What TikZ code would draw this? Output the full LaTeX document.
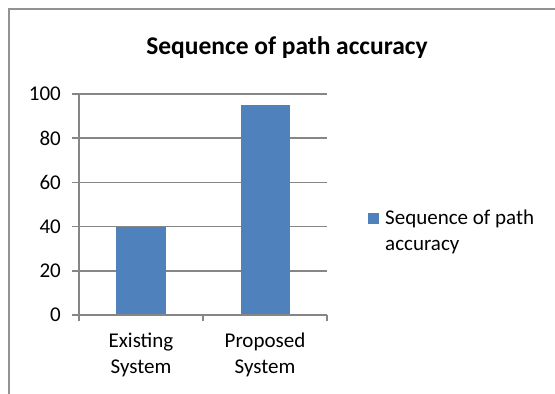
\documentclass[tikz,border=0pt]{standalone}
\usepackage{fontspec}
\setmainfont{Carlito}
\definecolor{barblue}{HTML}{4F81BD}
\definecolor{axisgray}{HTML}{868686}
\tikzstyle{gridline}=[draw=axisgray, line width=1.6]
\tikzstyle{axisline}=[draw=axisgray, line width=1.6]
\tikzstyle{framebox}=[draw=axisgray!90, line width=1.6]
\tikzstyle{barbox}=[fill=barblue, draw=none]
\tikzstyle{ticklabel}=[anchor=east, inner sep=0, font=\fontsize{21}{25}\selectfont]
\tikzstyle{catlabel}=[align=center, inner sep=0, font=\fontsize{21}{26}\selectfont]

\begin{document}
\begin{tikzpicture}[x=1pt, y=1pt]
  \useasboundingbox (0,0) rectangle (555,394);
  % outer chart frame
  \draw[framebox] (9,0) -- (9,385) -- (555,385);
  % gridlines and tick labels
  \foreach \v in {20,40,60,80,100}
    \draw[gridline] (72,79+2.21*\v) -- (327,79+2.21*\v);
  \foreach \v in {0,20,40,60,80,100}
    \node[ticklabel] (T\v) at (61,79+2.21*\v) {\v};
  % bars
  \fill[barbox] (116,79) rectangle (166,79+2.21*40);
  \fill[barbox] (241,79) rectangle (290,79+2.21*95);
  % axes
  \draw[axisline] (79,73) -- (79,300);
  \draw[axisline] (72,79) -- (327,79);
  \draw[axisline] (203,79) -- (203,73);
  \draw[axisline] (327,79) -- (327,73);
  % category labels
  \node[catlabel] (C1) at (141,39) {Existing\\System};
  \node[catlabel] (C2) at (265,39) {Proposed\\System};
  % title
  \node[font=\fontsize{25.5}{30}\selectfont\bfseries] (title) at (287,346) {Sequence of path accuracy};
  % legend
  \fill[barbox] (368,170) rectangle (379,181);
  \node[anchor=west, align=left, inner sep=0, font=\fontsize{21}{26}\selectfont] (L1) at (385,162) {Sequence of path\\accuracy};
\end{tikzpicture}
\end{document}
